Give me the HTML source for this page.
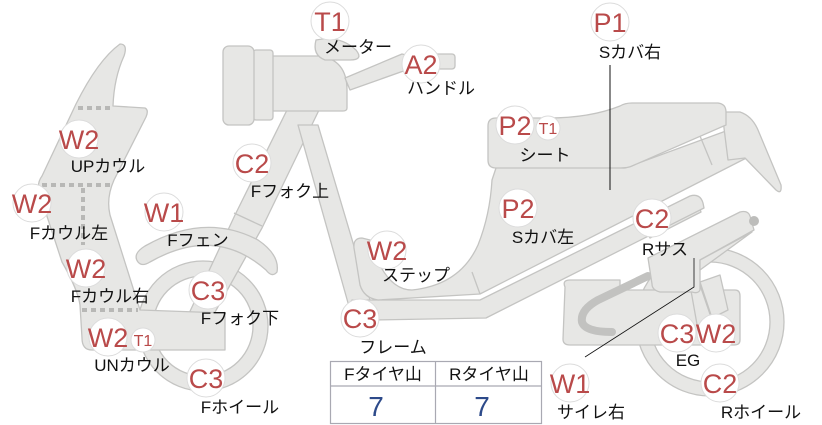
<!DOCTYPE html>
<html><head><meta charset="utf-8"><style>
html,body{margin:0;padding:0;background:#fff;width:822px;height:425px;overflow:hidden}
svg{display:block}
.p{fill:#e7e7e5;stroke:#c4c4c2;stroke-width:1.3;stroke-linejoin:round}
.b{fill:#fff;stroke:#dcdcdc;stroke-width:1}
.bt{font-family:"Liberation Sans","DejaVu Sans",sans-serif;fill:#b94a4a;text-anchor:middle}
.l{font-family:"Liberation Sans","Noto Sans CJK JP",sans-serif;font-size:17px;fill:#111;text-anchor:middle}
.d{stroke:#b8b8b6;stroke-width:4;stroke-dasharray:5 4;fill:none}
</style></head><body>
<svg width="822" height="425" viewBox="0 0 822 425" xmlns="http://www.w3.org/2000/svg">
<circle cx="710" cy="322" r="74" class="p"/>
<circle cx="710" cy="322" r="60" fill="#fff" stroke="#c4c4c2" stroke-width="1.3"/>
<circle cx="203" cy="326" r="65" class="p"/>
<circle cx="203" cy="326" r="50" fill="#fff" stroke="#c4c4c2" stroke-width="1.3"/>
<path class="p" d="M288,108 L320,108 L262,228 L205,330 L185,322 L235,215 Z"/>
<path d="M234,213 L262,226" stroke="#c4c4c2" stroke-width="1.3"/>
<path class="p" d="M138,262 Q132,254 145,246 Q205,212 258,240 Q280,255 277,272 Q272,278 266,270 Q215,225 150,262 Q142,267 138,262 Z"/>
<path class="p" d="M298,125 L318,125 L370,300 L350,310 Z"/>
<path class="p" d="M640,222 L688,200 Q696,198 698,204 L701,212 L650,238 Z"/>
<path class="p" d="M565,287 Q562,280 570,280 L620,280 L620,290 L735,290 Q740,290 740,296 L740,340 Q740,345 734,345 L570,345 Q563,345 563,339 Z"/>
<path d="M648,276 L598,300 Q580,310 582,322 Q585,332 612,332" stroke="#c2c2c0" stroke-width="8" fill="none" stroke-linecap="round"/>
<path class="p" d="M690,285 L700,285 L712,320 L698,330 Z"/>
<path class="p" d="M700,282 L720,275 L728,310 L712,318 Z"/>
<path class="p" d="M648,258 L740,212 Q748,210 750,216 L754,230 L700,260 L700,290 Q698,294 692,292 L660,292 Q652,290 652,284 Z"/>
<path class="p" d="M700,260 L752,232 L700,270 Z"/>
<circle cx="754" cy="221" r="5" fill="#bdbdbb"/>
<path class="p" d="M352,300 L480,300 L690,196 Q700,193 703,203 L704,208 L486,318 L372,320 Q352,320 348,306 Z"/>
<path class="p" d="M497,165 L625,168 L745,124 L762,150 L480,294 L378,300 Q364,298 360,285 L354,248 Q353,238 362,238 L370,240 Q385,290 412,290 Q460,285 478,245 Q490,215 492,180 Z"/>
<path d="M472,272 L480,294" stroke="#c4c4c2" stroke-width="1.3"/>
<path d="M700,136 L712,165" stroke="#c4c4c2" stroke-width="1.3"/>
<path class="p" d="M722,112 L740,112 Q752,116 758,130 L781,185 Q782,195 776,190 L745,158 L728,160 Z"/>
<path class="p" d="M496,118 L548,118 Q590,118 620,106 Q625,103 632,103 L718,103 Q726,104 726,112 L726,125 L632,166 Q628,168 620,168 L496,168 Q488,168 488,160 L488,126 Q488,118 496,118 Z"/>
<path class="p" d="M272,56 L320,56 Q347,60 347,90 L347,108 Q347,111 343,111 L272,111 Z"/>
<path class="p" d="M345,78 L402,54 L410,56 L412,68 L350,90 Z"/>
<rect x="430" y="54" width="25" height="15" rx="3" class="p"/>
<path class="p" d="M316,40 Q340,35 356,50 Q364,60 350,60 L325,60 Q312,55 316,40 Z"/>
<rect x="253" y="50" width="20" height="70" rx="3" class="p"/>
<rect x="223" y="46" width="31" height="79" rx="6" class="p"/>
<path class="p" d="M120,44 Q128,44 124,56 Q114,78 113,106 L145,108 Q149,110 146,117 L114,180 Q106,198 110,215 L140,310 L225,313 L225,350 L92,350 Q82,350 82,338 L80,305 Q78,290 62,262 L40,195 Q36,184 42,176 L76,104 Q98,60 120,44 Z"/>
<path class="d" d="M78,108 L112,108"/>
<path class="d" d="M42,185 L112,185"/>
<path class="d" d="M83,188 L83,245"/>
<path class="d" d="M82,310 L138,310"/>
<path d="M610,65 L610,190" stroke="#111" stroke-width="1"/>
<path d="M694,258 L694,287 L585,357" stroke="#111" stroke-width="0.8" fill="none"/>
<rect x="330.5" y="361.5" width="211" height="62" fill="#fff" stroke="#a9a9b2" stroke-width="1.2"/>
<line x1="330" y1="386" x2="542" y2="386" stroke="#a9a9b2" stroke-width="1.2"/>
<line x1="435.5" y1="361" x2="435.5" y2="424" stroke="#a9a9b2" stroke-width="1.2"/>
<text x="383" y="380" class="l">Fタイヤ山</text>
<text x="489" y="380" class="l">Rタイヤ山</text>
<text x="376" y="416" font-family="Liberation Sans,sans-serif" font-size="28" fill="#2d4a8a" text-anchor="middle">7</text>
<text x="482" y="416" font-family="Liberation Sans,sans-serif" font-size="28" fill="#2d4a8a" text-anchor="middle">7</text>
<g>
<circle cx="330" cy="21" r="19" class="b"/><text x="330" y="31" font-size="27" class="bt">T1</text>
<circle cx="421" cy="64" r="19" class="b"/><text x="421" y="74" font-size="27" class="bt">A2</text>
<circle cx="79" cy="139" r="19" class="b"/><text x="79" y="149" font-size="27" class="bt">W2</text>
<circle cx="252" cy="163" r="19" class="b"/><text x="252" y="173" font-size="27" class="bt">C2</text>
<circle cx="32" cy="203" r="19" class="b"/><text x="32" y="213" font-size="27" class="bt">W2</text>
<circle cx="164" cy="212" r="19" class="b"/><text x="164" y="222" font-size="27" class="bt">W1</text>
<circle cx="86" cy="268" r="19" class="b"/><text x="86" y="278" font-size="27" class="bt">W2</text>
<circle cx="208" cy="290" r="19" class="b"/><text x="208" y="300" font-size="27" class="bt">C3</text>
<circle cx="108" cy="337" r="19" class="b"/><text x="108" y="347" font-size="27" class="bt">W2</text>
<circle cx="143" cy="340" r="12" class="b"/><text x="143" y="346" font-size="16" class="bt">T1</text>
<circle cx="206" cy="378" r="19" class="b"/><text x="206" y="388" font-size="27" class="bt">C3</text>
<circle cx="610" cy="22" r="19" class="b"/><text x="610" y="32" font-size="27" class="bt">P1</text>
<circle cx="515" cy="125" r="19" class="b"/><text x="515" y="135" font-size="27" class="bt">P2</text>
<circle cx="548" cy="128" r="12" class="b"/><text x="548" y="134" font-size="16" class="bt">T1</text>
<circle cx="518" cy="208" r="19" class="b"/><text x="518" y="218" font-size="27" class="bt">P2</text>
<circle cx="387" cy="250" r="19" class="b"/><text x="387" y="260" font-size="27" class="bt">W2</text>
<circle cx="360" cy="318" r="19" class="b"/><text x="360" y="328" font-size="27" class="bt">C3</text>
<circle cx="652" cy="218" r="19" class="b"/><text x="652" y="228" font-size="27" class="bt">C2</text>
<circle cx="677" cy="333" r="19" class="b"/><text x="677" y="343" font-size="27" class="bt">C3</text>
<circle cx="716" cy="333" r="19" class="b"/><text x="716" y="343" font-size="27" class="bt">W2</text>
<circle cx="570" cy="383" r="19" class="b"/><text x="570" y="393" font-size="27" class="bt">W1</text>
<circle cx="720" cy="383" r="19" class="b"/><text x="720" y="393" font-size="27" class="bt">C2</text>
</g>
<text x="358" y="53" class="l">メーター</text>
<text x="441" y="94" class="l">ハンドル</text>
<text x="108" y="172" class="l">UPカウル</text>
<text x="290" y="197" class="l">Fフォク上</text>
<text x="69" y="239" class="l">Fカウル左</text>
<text x="198" y="246" class="l">Fフェン</text>
<text x="110" y="302" class="l">Fカウル右</text>
<text x="240" y="324" class="l">Fフォク下</text>
<text x="132" y="371" class="l">UNカウル</text>
<text x="240" y="413" class="l">Fホイール</text>
<text x="630" y="58" class="l">Sカバ右</text>
<text x="545" y="161" class="l">シート</text>
<text x="543" y="243" class="l">Sカバ左</text>
<text x="416" y="281" class="l">ステップ</text>
<text x="393" y="353" class="l">フレーム</text>
<text x="665" y="255" class="l">Rサス</text>
<text x="688" y="366" class="l">EG</text>
<text x="591" y="418" class="l">サイレ右</text>
<text x="761" y="418" class="l">Rホイール</text>
</svg>
</body></html>
